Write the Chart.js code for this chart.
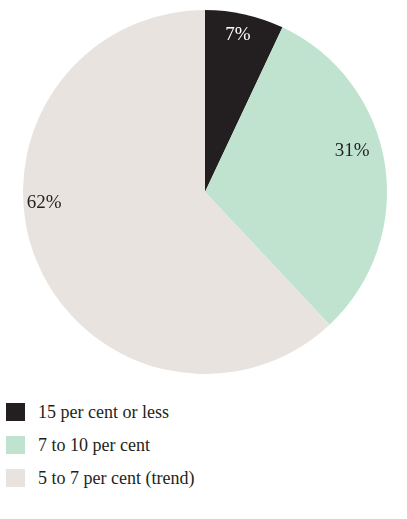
<!DOCTYPE html>
<html>
<head>
<meta charset="utf-8">
<script src="https://cdn.jsdelivr.net/npm/chart.js@4"></script>
<style>
  body { margin: 0; background: #fff; }
  #wrap { position: relative; width: 407px; height: 519px; }
  #box { position: absolute; left: 0; top: 0; width: 407px; height: 384px; }
  #legend { position: absolute; left: 6px; top: 403px; margin: 0; padding: 0; list-style: none;
    font-family: 'Liberation Serif', serif; font-size: 18px; color: #231f20; }
  #legend li { display: flex; align-items: center; height: 18px; margin-bottom: 15px; }
  #legend span { display: inline-block; width: 19px; height: 18px; margin-right: 13px; }
</style>
</head>
<body>
<div id="wrap">
  <div id="box"><canvas id="chart"></canvas></div>
  <ul id="legend"></ul>
</div>
<script>
'use strict';

const categories = ['15 per cent or less', '7 to 10 per cent', '5 to 7 per cent (trend)'];
const shares = [7, 31, 62];
const colours = ['#231f20', '#bfe3cf', '#e8e3de'];
const labelColours = ['#ffffff', '#231f20', '#231f20'];

// where along each slice the % label sits (fraction of angle, fraction of radius)
const labelSpots = [[0.47, 0.88], [0.44, 0.84], [0.58, 0.885]];

const sliceLabels = {
  id: 'sliceLabels',
  afterDatasetsDraw(chart) {
    const ctx = chart.ctx;
    const arcs = chart.getDatasetMeta(0).data;
    ctx.save();
    ctx.font = '19px "Liberation Serif", serif';
    ctx.textAlign = 'center';
    ctx.textBaseline = 'middle';
    arcs.forEach(function (arc, i) {
      let a = arc.startAngle + labelSpots[i][0] * (arc.endAngle - arc.startAngle);
      let r = arc.outerRadius * labelSpots[i][1];
      ctx.fillStyle = labelColours[i];
      ctx.fillText(shares[i] + '%', arc.x + Math.cos(a) * r, arc.y + Math.sin(a) * r);
    });
    ctx.restore();
  }
};

new Chart(document.getElementById('chart'), {
  type: 'pie',
  data: {
    labels: categories,
    datasets: [{
      data: shares,
      backgroundColor: colours,
      borderWidth: 0
    }]
  },
  options: {
    responsive: true,
    maintainAspectRatio: false,
    animation: false,
    layout: { padding: { top: 10, bottom: 10, left: 3, right: 0 } },
    plugins: {
      legend: { display: false },
      tooltip: { enabled: false }
    }
  },
  plugins: [sliceLabels]
});

let legend = document.getElementById('legend');
for (let i = 0; i < categories.length; i++) {
  let li = document.createElement('li');
  let sw = document.createElement('span');
  sw.style.background = colours[i];
  li.appendChild(sw);
  li.appendChild(document.createTextNode(categories[i]));
  legend.appendChild(li);
}
</script>
</body>
</html>
